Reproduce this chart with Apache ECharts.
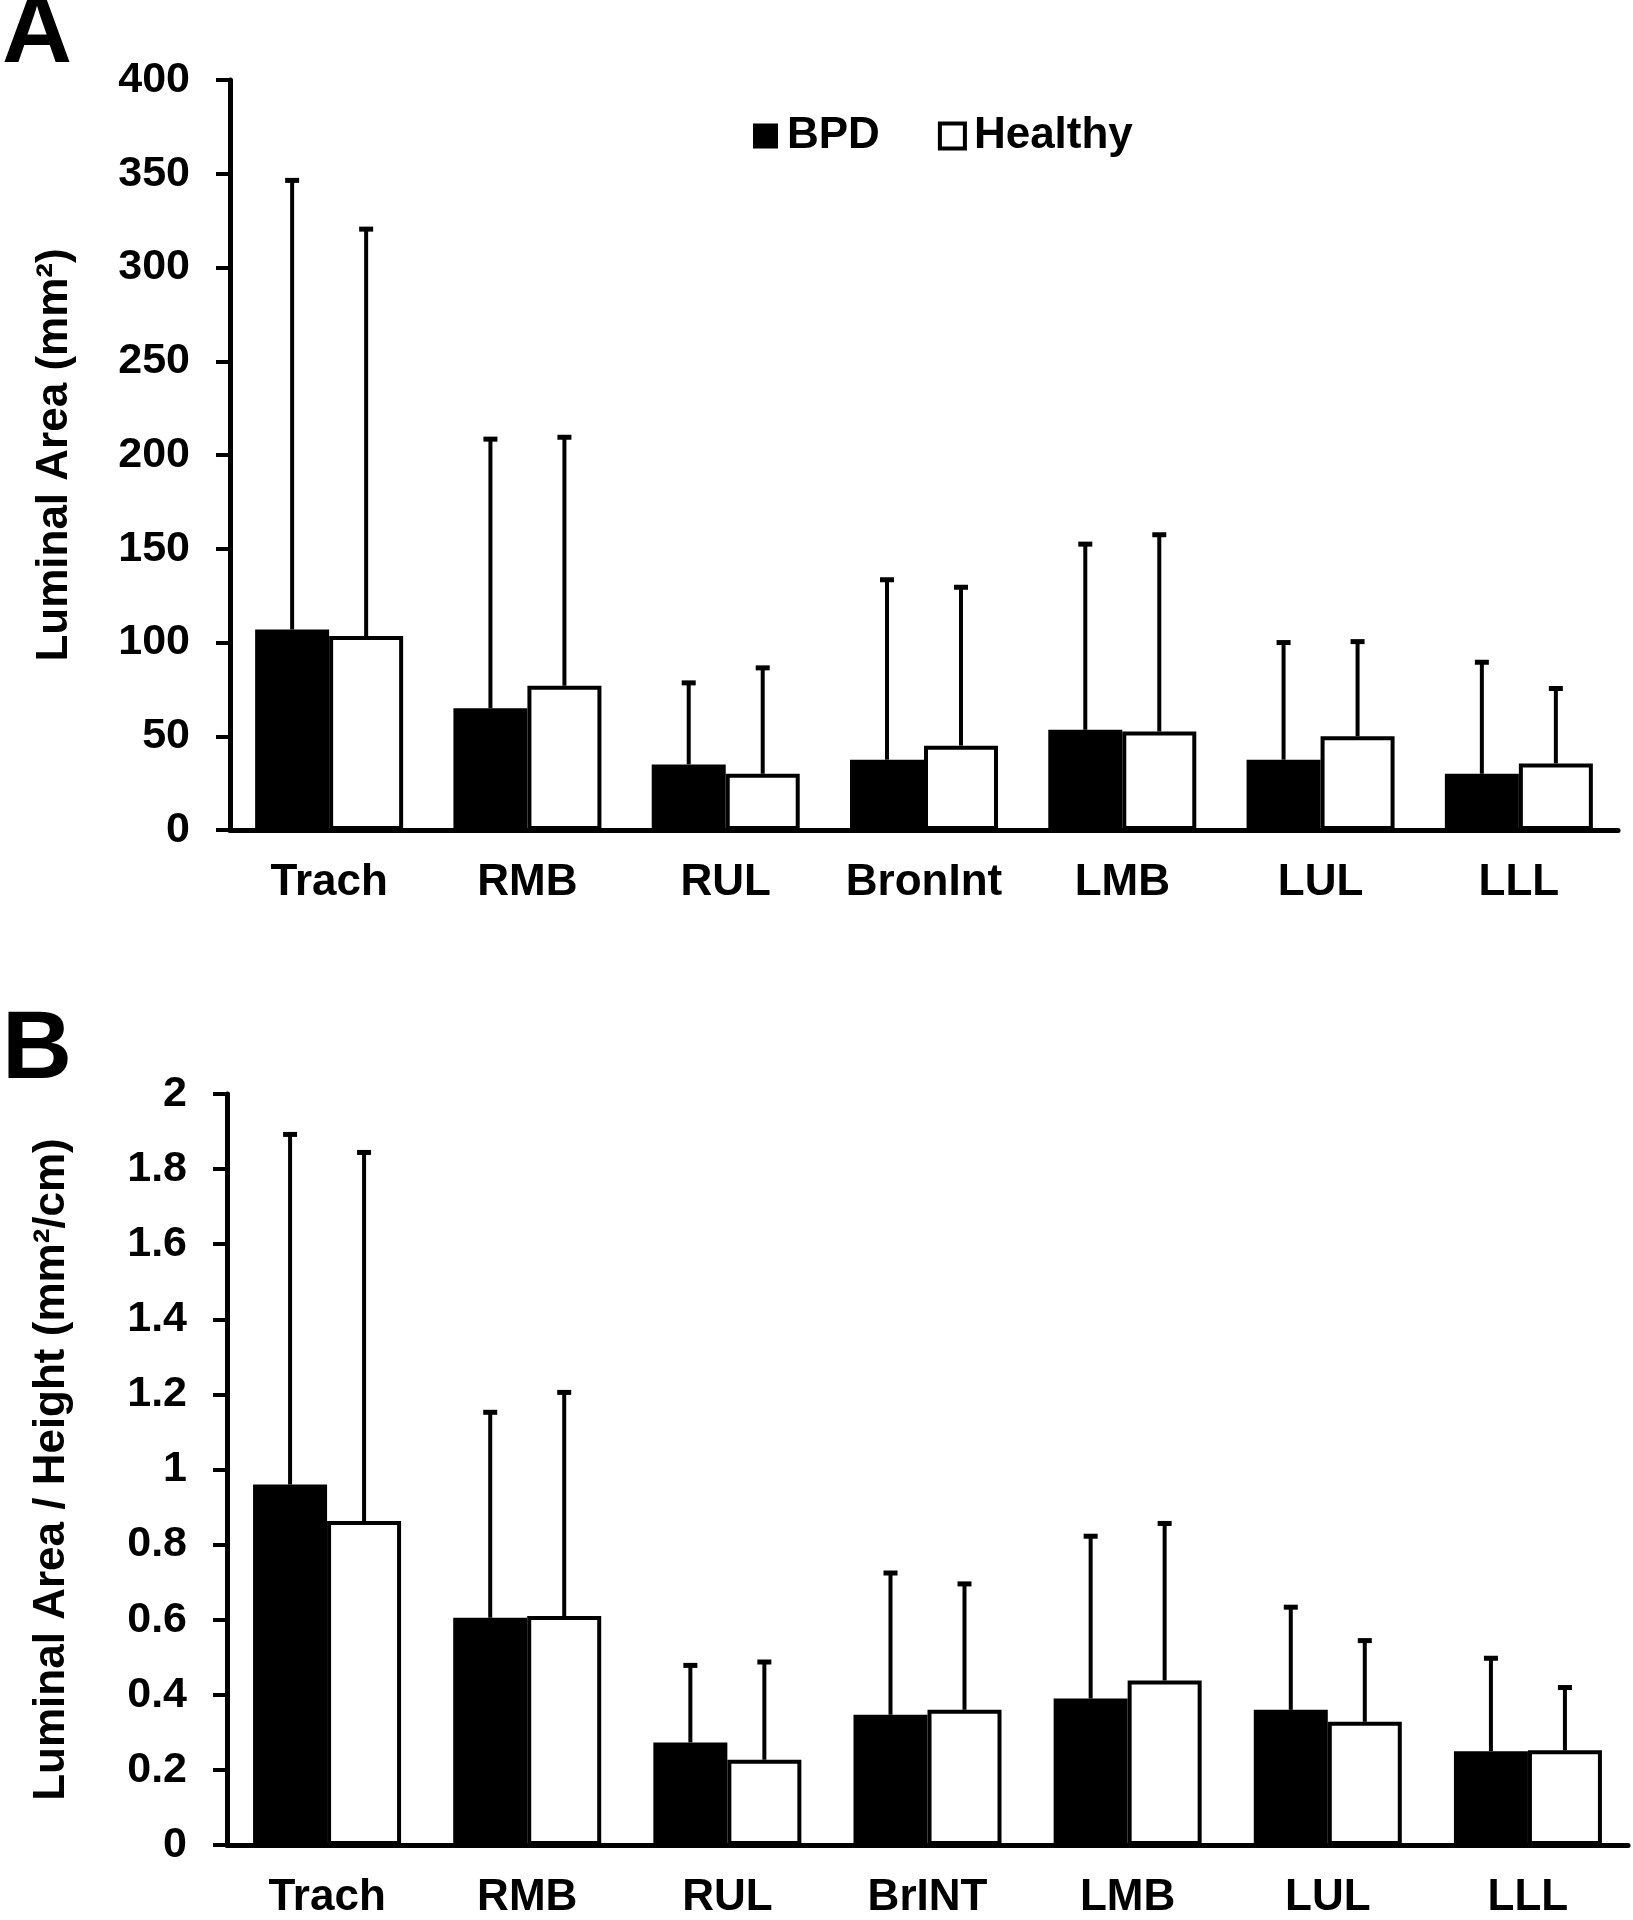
<!DOCTYPE html>
<html>
<head>
<meta charset="utf-8">
<script src="https://cdn.jsdelivr.net/npm/echarts@6/dist/echarts.min.js"></script>
<style>
html,body{margin:0;padding:0;background:#fff;}
#chart{width:1633px;height:1920px;}
</style>
</head>
<body>
<div id="chart"></div>
<script>
// ---- Data ----
var categoriesA = ['Trach', 'RMB', 'RUL', 'BronInt', 'LMB', 'LUL', 'LLL'];
var categoriesB = ['Trach', 'RMB', 'RUL', 'BrINT', 'LMB', 'LUL', 'LLL'];

// Panel A: Luminal area (mm²), means and SD
var bpdAreaMean     = [107, 65, 35, 37.5, 53.5, 37.5, 30];
var bpdAreaSD       = [240, 144, 44, 96.5, 99.5, 63, 60];
var healthyAreaMean = [103.5, 77, 30, 45, 52.5, 50, 35.5];
var healthyAreaSD   = [217.5, 133, 57, 85, 105.5, 51, 40.5];

// Panel B: Luminal area / height (mm²/cm), means and SD
var bpdRatioMean     = [0.96, 0.605, 0.273, 0.347, 0.39, 0.36, 0.25];
var bpdRatioSD       = [0.935, 0.55, 0.208, 0.38, 0.435, 0.276, 0.25];
var healthyRatioMean = [0.863, 0.61, 0.227, 0.36, 0.438, 0.328, 0.252];
var healthyRatioSD   = [0.984, 0.598, 0.263, 0.338, 0.421, 0.219, 0.17];

var yTicksA = {min: 0, max: 400, interval: 50};
var yTicksB = {min: 0, max: 2, interval: 0.2};

// ---- Styling ----
var FONT = '"Liberation Sans", Arial, Helvetica, sans-serif';
var BAR_W = 74;
var HALF = BAR_W / 2;

function errData(means, sds) {
  return means.map(function (m, i) { return [i, m, sds[i]]; });
}

function errRender(offset) {
  return function (params, api) {
    var idx = api.value(0);
    var m = api.value(1);
    var sd = api.value(2);
    var p0 = api.coord([idx, m]);
    var p1 = api.coord([idx, m + sd]);
    var x = p0[0] + offset;
    return {
      type: 'group',
      children: [
        {type: 'line', shape: {x1: x, y1: p0[1], x2: x, y2: p1[1]},
         style: {stroke: '#000', lineWidth: 4}},
        {type: 'line', shape: {x1: x - 7, y1: p1[1] + 1, x2: x + 7, y2: p1[1] + 1},
         style: {stroke: '#000', lineWidth: 5}}
      ]
    };
  };
}

function xAxisCfg(cats, gridIndex) {
  return {
    type: 'category', gridIndex: gridIndex, data: cats,
    axisLine: {lineStyle: {color: '#000', width: 5}},
    axisTick: {show: false},
    axisLabel: {interval: 0, color: '#000', fontFamily: FONT, fontWeight: 'bold', fontSize: 44, margin: 31}
  };
}

function yAxisCfg(ticks, name, gridIndex) {
  return {
    type: 'value', gridIndex: gridIndex, min: ticks.min, max: ticks.max, interval: ticks.interval,
    name: name, nameLocation: 'middle', nameRotate: 90, nameGap: 153,
    nameTextStyle: {color: '#000', fontFamily: FONT, fontWeight: 'bold', fontSize: 44},
    axisLine: {show: true, lineStyle: {color: '#000', width: 5}},
    axisTick: {show: true, length: 14, lineStyle: {color: '#000', width: 4}},
    splitLine: {show: false},
    axisLabel: {color: '#000', fontFamily: FONT, fontWeight: 'bold', fontSize: 43, margin: 40}
  };
}

var bpdStyle = {color: '#000', borderColor: '#000', borderWidth: 4};
var healthyStyle = {color: '#fff', borderColor: '#000', borderWidth: 4};

var option = {
  backgroundColor: '#fff',
  animation: false,
  title: [
    {text: 'A', left: -3, top: -18, textStyle: {fontFamily: FONT, fontWeight: 'bold', fontSize: 97, color: '#000'}},
    {text: 'B', left: -3, top: 998, textStyle: {fontFamily: FONT, fontWeight: 'bold', fontSize: 97, color: '#000'}}
  ],
  legend: {
    left: 748, top: 109,
    icon: 'rect',
    itemWidth: 25, itemHeight: 25, itemGap: 58,
    data: [
      {name: 'BPD', itemStyle: {color: '#000', borderColor: '#000', borderWidth: 0}},
      {name: 'Healthy', itemStyle: {color: '#fff', borderColor: '#000', borderWidth: 4}}
    ],
    textStyle: {fontFamily: FONT, fontWeight: 'bold', fontSize: 44, color: '#000', padding: [0, 0, 0, 4]}
  },
  grid: [
    {left: 230, right: 15, top: 80, bottom: 1090},
    {left: 227, right: 5, top: 1094, bottom: 75}
  ],
  xAxis: [xAxisCfg(categoriesA, 0), xAxisCfg(categoriesB, 1)],
  yAxis: [
    yAxisCfg(yTicksA, 'Luminal Area (mm²)', 0),
    yAxisCfg(yTicksB, 'Luminal Area / Height (mm²/cm)', 1)
  ],
  series: [
    {name: 'BPD', type: 'bar', xAxisIndex: 0, yAxisIndex: 0, data: bpdAreaMean,
     barWidth: BAR_W, barGap: '0%', itemStyle: bpdStyle},
    {name: 'Healthy', type: 'bar', xAxisIndex: 0, yAxisIndex: 0, data: healthyAreaMean,
     barWidth: BAR_W, barGap: '0%', itemStyle: healthyStyle},
    {name: 'BPD', type: 'bar', xAxisIndex: 1, yAxisIndex: 1, data: bpdRatioMean,
     barWidth: BAR_W, barGap: '0%', itemStyle: bpdStyle},
    {name: 'Healthy', type: 'bar', xAxisIndex: 1, yAxisIndex: 1, data: healthyRatioMean,
     barWidth: BAR_W, barGap: '0%', itemStyle: healthyStyle},
    {type: 'custom', xAxisIndex: 0, yAxisIndex: 0, z: 1, renderItem: errRender(-HALF),
     data: errData(bpdAreaMean, bpdAreaSD), encode: {x: 0, y: [1, 2]}},
    {type: 'custom', xAxisIndex: 0, yAxisIndex: 0, z: 1, renderItem: errRender(HALF),
     data: errData(healthyAreaMean, healthyAreaSD), encode: {x: 0, y: [1, 2]}},
    {type: 'custom', xAxisIndex: 1, yAxisIndex: 1, z: 1, renderItem: errRender(-HALF),
     data: errData(bpdRatioMean, bpdRatioSD), encode: {x: 0, y: [1, 2]}},
    {type: 'custom', xAxisIndex: 1, yAxisIndex: 1, z: 1, renderItem: errRender(HALF),
     data: errData(healthyRatioMean, healthyRatioSD), encode: {x: 0, y: [1, 2]}}
  ]
};

var chart = echarts.init(document.getElementById('chart'), null, {renderer: 'canvas'});
chart.setOption(option);
</script>
</body>
</html>
